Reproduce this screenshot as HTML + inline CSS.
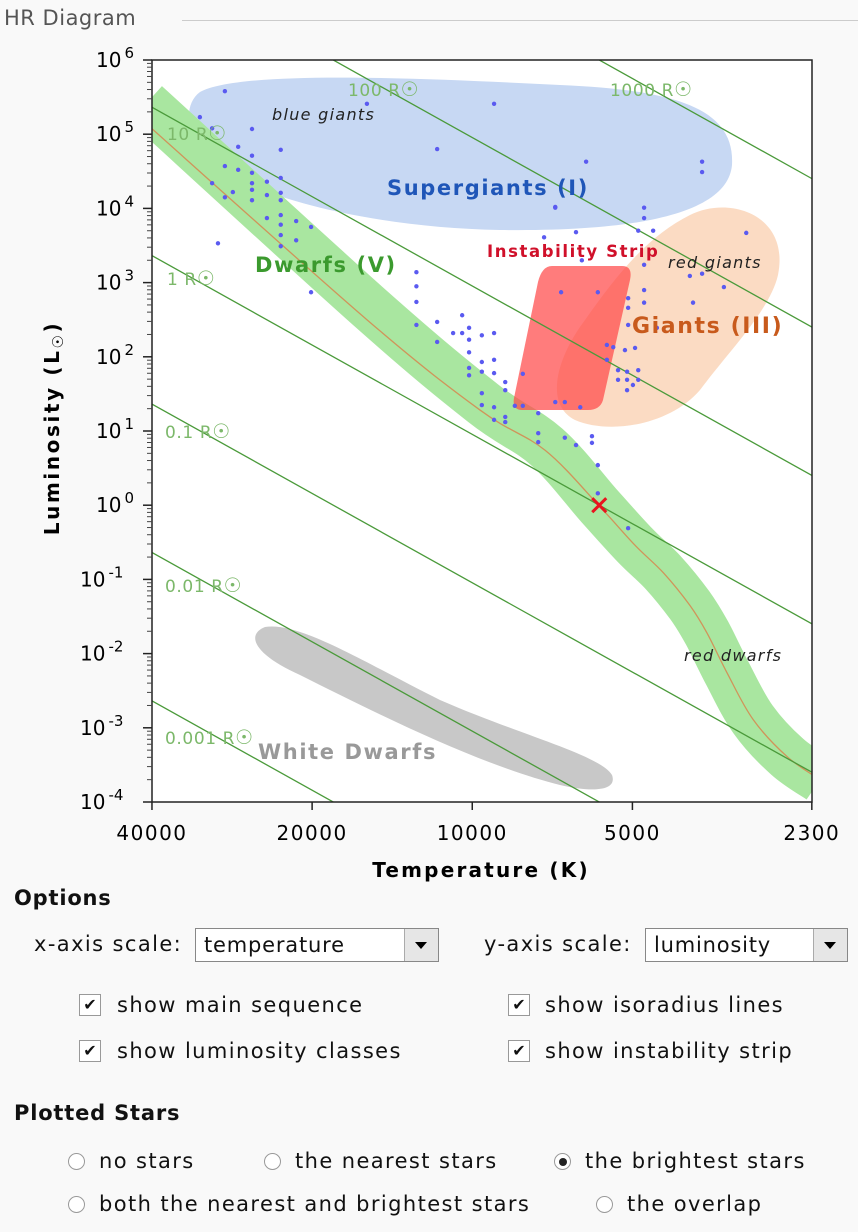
<!DOCTYPE html>
<html><head><meta charset="utf-8"><style>
body{margin:0;width:858px;height:1232px;background:#f9f9f9;font-family:"DejaVu Sans","Liberation Sans",sans-serif;position:relative;overflow:hidden;color:#111}
.abs{position:absolute;white-space:nowrap}
.sel{position:absolute;height:34px;border:1px solid #888;background:#fff;box-sizing:border-box;font-size:21px;line-height:32px;padding-left:8px;letter-spacing:0.8px}
.sel .btn{position:absolute;right:0;top:0;width:33px;height:32px;border-left:1px solid #aaa;background:#e6e6e6}
.sel .btn:after{content:"";position:absolute;left:10px;top:13px;border-left:6px solid transparent;border-right:6px solid transparent;border-top:7px solid #000}
.cb{position:absolute;width:22px;height:22px;border:1px solid #999;box-sizing:border-box;background:#fff;font-size:16px;line-height:20px;text-align:center;font-weight:bold}
.rd{position:absolute;width:17px;height:17px;border:1px solid #999;border-radius:50%;box-sizing:border-box;background:#fff}
.lbl{font-size:21px;letter-spacing:1.4px}
</style></head><body>
<div class="abs" style="left:4px;top:6px;font-size:21px;color:#555;letter-spacing:0.5px">HR Diagram</div>
<div class="abs" style="left:182px;top:20px;width:676px;height:1px;background:#ccc"></div>

<svg id="chart" style="position:absolute;left:0;top:0" width="858" height="890" xmlns="http://www.w3.org/2000/svg">
<defs><clipPath id="pc"><rect x="152" y="60" width="660" height="742"/></clipPath></defs>
<rect x="152" y="60" width="660" height="742" fill="#fff"/>
<g clip-path="url(#pc)">
<path d="M200,92 C240,70 420,78 560,85 C680,90 735,110 732,165 C728,210 650,232 500,230 C380,228 260,200 215,165 C185,140 182,105 200,92 Z" fill="#c7d8f3"/>
<path d="M690,215 C730,195 790,215 778,275 C770,310 730,350 700,390 C670,425 610,435 575,420 C545,405 555,360 585,320 C620,270 650,235 690,215 Z" fill="#fbd9c0" opacity="0.95"/>
<path d="M265,627 C300,622 360,660 440,700 C520,735 600,755 612,775 C618,792 590,792 560,785 C480,765 380,715 300,675 C255,655 245,635 265,627 Z" fill="#c8c8c8"/>
<g id="ms"></g>
<path d="M552,266 L622,266 Q633,266 630,280 L603,400 Q600,410 588,410 L522,410 Q512,410 514,398 L538,282 Q542,266 552,266 Z" fill="#ff4a4a" opacity="0.72"/>
<g id="iso"></g>
<g id="stars"></g>
</g>
<rect x="152" y="60" width="660" height="742" fill="none" stroke="#222" stroke-width="1.5"/>
<g id="axes"></g>
<g font-size="16" fill="#222" font-style="italic" letter-spacing="1.3">
<text x="272" y="120">blue giants</text>
<text x="668" y="268">red giants</text>
<text x="684" y="661">red dwarfs</text>
</g>
<g font-weight="bold" letter-spacing="1.6">
<text x="387" y="195" font-size="21" fill="#1f56b8">Supergiants (I)</text>
<text x="487" y="257" font-size="16.5" fill="#d0102a">Instability Strip</text>
<text x="255" y="272" font-size="21" fill="#3b9a2e">Dwarfs (V)</text>
<text x="632" y="333" font-size="22" fill="#c85a1c">Giants (III)</text>
<text x="258" y="759" font-size="21" fill="#999">White Dwarfs</text>
</g>
<g id="sun"></g>
<text x="481" y="877" text-anchor="middle" font-size="20" font-weight="bold" letter-spacing="2.2">Temperature (K)</text>
<text transform="translate(59,428) rotate(-90)" text-anchor="middle" font-size="20" font-weight="bold" letter-spacing="2.6">Luminosity (L<tspan font-size="15" dy="4">☉</tspan><tspan dy="-4">)</tspan></text>
</svg>

<div class="abs" style="left:14px;top:886px;font-size:21px;font-weight:bold;letter-spacing:0.8px">Options</div>
<div class="abs lbl" style="left:34px;top:932px">x-axis scale:</div>
<div class="sel" style="left:195px;top:928px;width:244px">temperature<div class="btn"></div></div>
<div class="abs lbl" style="left:484px;top:932px">y-axis scale:</div>
<div class="sel" style="left:645px;top:928px;width:203px">luminosity<div class="btn"></div></div>

<div class="cb" style="left:79px;top:994px">✔</div>
<div class="abs lbl" style="left:117px;top:993px">show main sequence</div>
<div class="cb" style="left:79px;top:1040px">✔</div>
<div class="abs lbl" style="left:117px;top:1039px">show luminosity classes</div>
<div class="cb" style="left:508px;top:994px">✔</div>
<div class="abs lbl" style="left:545px;top:993px">show isoradius lines</div>
<div class="cb" style="left:508px;top:1040px">✔</div>
<div class="abs lbl" style="left:545px;top:1039px">show instability strip</div>

<div class="abs" style="left:14px;top:1101px;font-size:21px;font-weight:bold;letter-spacing:0.8px">Plotted Stars</div>
<div class="rd" style="left:68px;top:1153px"></div>
<div class="abs lbl" style="left:99px;top:1149px">no stars</div>
<div class="rd" style="left:264px;top:1153px"></div>
<div class="abs lbl" style="left:295px;top:1149px">the nearest stars</div>
<div class="rd" style="left:554px;top:1153px"><div style="position:absolute;left:3.5px;top:3.5px;width:8px;height:8px;border-radius:50%;background:#222"></div></div>
<div class="abs lbl" style="left:585px;top:1149px">the brightest stars</div>
<div class="rd" style="left:68px;top:1196px"></div>
<div class="abs lbl" style="left:99px;top:1192px">both the nearest and brightest stars</div>
<div class="rd" style="left:596px;top:1196px"></div>
<div class="abs lbl" style="left:627px;top:1192px">the overlap</div>

<script>
// ---- data ----
const xTickTemps = [40000, 20000, 10000, 5000, 2300];
const yTickExps = [6,5,4,3,2,1,0,-1,-2,-3,-4];
const isoLogRadii = [-3,-2,-1,0,1,2,3];
const isoLabels = ["0.001 R","0.01 R","0.1 R","1 R","10 R","100 R","1000 R"];
const msLogT = [4.625,4.198,3.985,3.863,3.760,3.694,3.641,3.591,3.559,3.521,3.472,3.408,3.346];
const msLogL = [5.22,2.50,1.28,0.74,-0.02,-0.54,-0.91,-1.35,-1.72,-2.26,-2.89,-3.39,-3.70];
const starLogT = [4.465,4.198,3.959,4.512,4.489,4.414,4.440,4.360,4.414,4.066,4.465,4.440,4.414,4.386,4.360,4.489,4.450,4.465,4.414,4.414,4.414,4.386,4.360,4.360,4.386,4.360,4.360,4.360,4.360,4.331,4.303,4.331,4.478,4.303,4.105,4.105,4.105,4.019,
3.786,3.568,3.568,3.844,3.844,3.677,3.677,3.688,3.660,3.805,3.865,3.485,3.677,3.794,4.066,4.105,4.006,4.036,4.019,3.982,3.959,4.006,4.066,3.833,3.764,3.707,3.707,3.677,3.677,3.585,3.591,3.568,3.527,4.006,3.982,3.959,4.006,4.006,3.982,3.959,3.938,3.938,3.707,3.653,3.747,3.735,3.713,3.694,3.747,3.905,3.726,3.726,3.709,3.709,3.688,3.688,3.698,3.709,3.982,3.982,3.959,3.920,3.905,3.844,3.826,3.797,3.876,3.959,3.938,3.938,3.876,3.876,3.826,3.805,3.775,3.775,3.764,3.764,3.707];
const starLogL = [5.58,5.41,5.41,5.23,5.08,5.07,4.83,4.79,4.71,4.80,4.57,4.52,4.48,4.36,4.41,4.34,4.22,4.15,4.34,4.25,4.11,4.18,4.21,4.11,3.87,3.91,3.78,3.64,3.49,3.83,3.75,3.57,3.53,2.87,3.14,2.95,2.74,2.56,
4.63,4.63,4.49,4.02,4.01,4.01,3.87,3.70,3.70,3.68,3.61,3.67,3.24,3.30,2.47,2.43,2.39,2.32,2.32,2.29,2.32,2.23,2.20,2.87,2.87,2.79,2.66,2.90,2.73,2.73,3.09,3.12,2.94,2.06,1.93,1.96,1.85,1.75,1.80,1.78,1.66,1.55,2.43,2.39,2.16,2.13,2.09,2.12,1.96,1.77,1.82,1.69,1.80,1.69,1.82,1.69,1.62,1.55,1.51,1.35,1.32,1.34,1.34,1.39,1.39,1.32,1.24,1.15,1.19,1.12,0.97,0.85,0.91,0.81,0.93,0.84,0.54,0.16,-0.31];
const sunTemp = 5772, sunLogL = 0;
// ---- scales ----
const xS = lt => 152 + (4.602 - lt) * 532;
const yS = ll => 60 + (6 - ll) * 74.2;
const NS = "http://www.w3.org/2000/svg";
function mk(tag, attrs, parent){const e=document.createElementNS(NS,tag);for(const k in attrs)e.setAttribute(k,attrs[k]);parent.appendChild(e);return e;}
function smooth(pts){
  let d='M'+pts[0][0].toFixed(1)+','+pts[0][1].toFixed(1);
  for(let i=0;i<pts.length-1;i++){
    const p0=pts[Math.max(0,i-1)],p1=pts[i],p2=pts[i+1],p3=pts[Math.min(pts.length-1,i+2)];
    const c1=[p1[0]+(p2[0]-p0[0])/6,p1[1]+(p2[1]-p0[1])/6],c2=[p2[0]-(p3[0]-p1[0])/6,p2[1]-(p3[1]-p1[1])/6];
    d+=` C${c1[0].toFixed(1)},${c1[1].toFixed(1)} ${c2[0].toFixed(1)},${c2[1].toFixed(1)} ${p2[0].toFixed(1)},${p2[1].toFixed(1)}`;
  }
  return d;
}
// main sequence
const msG = document.getElementById('ms');
const msPts = msLogT.map((t,i)=>[xS(t),yS(msLogL[i])]);
const bandPts = msPts.map((p,i)=>{const k=Math.max(0,1-i/4);return [p[0]+6*k,p[1]-14*k];});
const band = mk('path',{d:smooth(bandPts),fill:'none',stroke:'#a9e6a0','stroke-width':48,'stroke-linejoin':'round'},msG);


const msl = mk('path',{d:smooth(msPts),fill:'none',stroke:'#d0945a','stroke-width':1.3},msG);


// isoradius lines
const isoG = document.getElementById('iso');
isoLogRadii.forEach((lr,i)=>{
  const L = lt => 2*lr + 4*(lt - 3.7613);
  const ln = mk('line',{x1:xS(4.75),y1:yS(L(4.75)),x2:xS(3.3),y2:yS(L(3.3)),stroke:'#4a9a3a','stroke-width':1.3},isoG);
  
  
});
const labelPos = [[165,744],[165,592],[165,438],[167,285],[167,140],[348,96],[610,96]];
const svg = document.getElementById('chart');
isoLabels.forEach((s,i)=>{
  const [x,y]=labelPos[i];
  const t = mk('text',{x:x,y:y,'font-size':17,fill:'#7cb86a','letter-spacing':0.6},svg);
  t.innerHTML = s + '<tspan font-size="20">☉</tspan>';
  
  
});
// stars
const sG = document.getElementById('stars');
starLogT.forEach((t,i)=>{
  const c = mk('circle',{cx:xS(t),cy:yS(starLogL[i]),r:2.2,fill:'#5a5af0'},sG);
  
  
});
// sun
const sx = xS(Math.log10(sunTemp)), sy = yS(sunLogL);
const sun = mk('path',{d:`M${sx-7},${sy-7}L${sx+7},${sy+7}M${sx+7},${sy-7}L${sx-7},${sy+7}`,stroke:'#e8141e','stroke-width':3},document.getElementById('sun'));


// axes
const ax = document.getElementById('axes');
xTickTemps.forEach(T=>{
  const x = xS(Math.log10(T));
  const tk = mk('line',{x1:x,y1:802,x2:x,y2:810,stroke:'#222','stroke-width':1.5},ax);
  
  
  const t = mk('text',{x:x,y:840,'text-anchor':'middle','font-size':20,'letter-spacing':1.5},ax);
  t.textContent = T;
  
  
});
yTickExps.forEach(e=>{
  const y = yS(e);
  const tk = mk('line',{x1:143,y1:y,x2:152,y2:y,stroke:'#222','stroke-width':1.5},ax);
  
  
  if(e<6){for(let m=2;m<10;m++){const yy=y-Math.log10(m)*74.2;const mt=mk('line',{x1:147,y1:yy,x2:152,y2:yy,stroke:'#444','stroke-width':1},ax);}}
  const t = mk('text',{x:e<0?80:96,y:y+7,'font-size':20},ax);
  
  
  t.innerHTML = '10<tspan font-size="15" dy="-9" dx="3">'+e+'</tspan>';
});
</script>
</body></html>
